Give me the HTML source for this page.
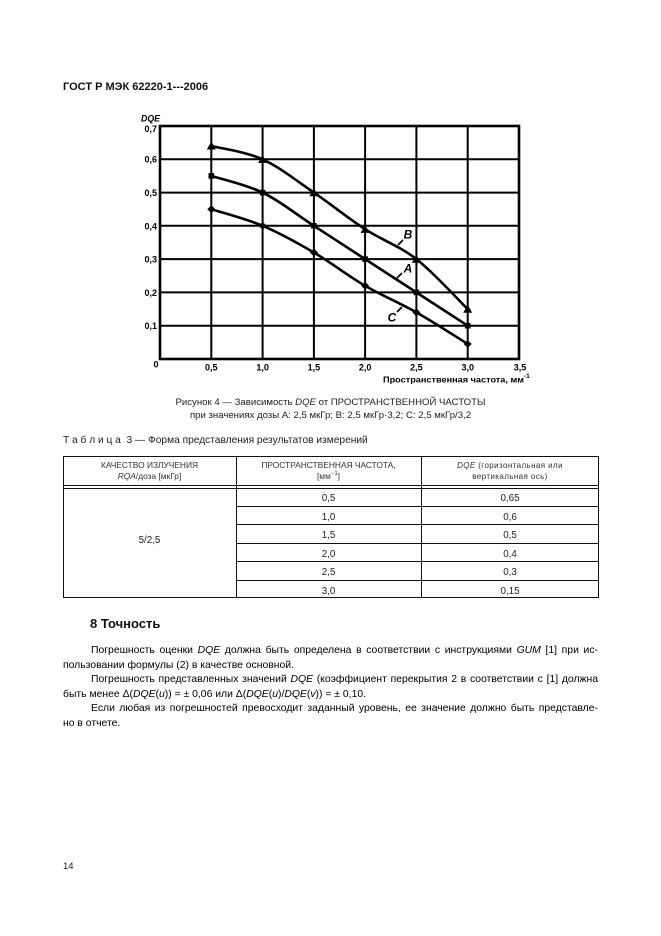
<!DOCTYPE html>
<html><head><meta charset="utf-8">
<style>
html,body{margin:0;padding:0;background:#fff;}
body{width:661px;height:936px;position:relative;overflow:hidden;font-family:"Liberation Sans",Arial,sans-serif;color:#111;}
.a{position:absolute;white-space:nowrap;}
.j{position:absolute;white-space:nowrap;text-align:justify;text-align-last:justify;}
</style></head>
<body>
<div class="a" style="left:63px;top:80px;font-size:11px;line-height:14px;font-weight:bold;">ГОСТ Р МЭК 62220-1---2006</div>

<svg class="a" style="left:0;top:0" width="661" height="400" viewBox="0 0 661 400" xmlns="http://www.w3.org/2000/svg">
<g stroke="#000" stroke-width="2" fill="none">
<line x1="211.3" y1="126" x2="211.3" y2="359"/>
<line x1="262.6" y1="126" x2="262.6" y2="359"/>
<line x1="313.9" y1="126" x2="313.9" y2="359"/>
<line x1="365.1" y1="126" x2="365.1" y2="359"/>
<line x1="416.4" y1="126" x2="416.4" y2="359"/>
<line x1="467.7" y1="126" x2="467.7" y2="359"/>
<line x1="160" y1="159.3" x2="519" y2="159.3"/>
<line x1="160" y1="192.6" x2="519" y2="192.6"/>
<line x1="160" y1="225.8" x2="519" y2="225.8"/>
<line x1="160" y1="259.1" x2="519" y2="259.1"/>
<line x1="160" y1="292.4" x2="519" y2="292.4"/>
<line x1="160" y1="325.7" x2="519" y2="325.7"/>
<rect x="160" y="126" width="359" height="233" stroke-width="2.6"/>
</g>
<g stroke="#000" stroke-width="2.6" fill="none" stroke-linejoin="round" stroke-linecap="round">
<path d="M211.3,146 C219.85,148.2 245.5,151.5 262.6,159.3 C279.7,167.1 296.8,180.95 313.9,192.6 C331,204.25 348,218.1 365.1,229.2 C382.2,240.3 399.3,245.8 416.4,259.1 C433.5,272.4 459.15,300.8 467.7,309.1"/>
<path d="M211.3,175.9 C219.85,178.7 245.5,184.3 262.6,192.6 C279.7,200.9 296.8,214.7 313.9,225.8 C331,236.9 348,248 365.1,259.1 C382.2,270.2 399.3,281.3 416.4,292.4 C433.5,303.5 459.15,320.15 467.7,325.7"/>
<path d="M211.3,209.2 C219.85,211.97 245.5,218.6 262.6,225.8 C279.7,233 296.8,242.5 313.9,252.5 C331,262.5 348,275.8 365.1,285.8 C382.2,295.8 399.3,302.7 416.4,312.4 C433.5,322.1 459.15,338.7 467.7,344"/>
</g>
<g fill="#000">
<polygon points="211.3,141.5 215.8,149.5 206.8,149.5"/>
<polygon points="262.6,155 267.1,163 258.1,163"/>
<polygon points="313.9,188.3 318.4,196.3 309.4,196.3"/>
<polygon points="365.1,224.9 369.6,232.9 360.6,232.9"/>
<polygon points="416.4,254.8 420.9,262.8 411.9,262.8"/>
<polygon points="467.7,304.8 472.2,312.8 463.2,312.8"/>
<rect x="208.5" y="173.1" width="5.6" height="5.6"/>
<rect x="259.8" y="189.8" width="5.6" height="5.6"/>
<rect x="311.1" y="223" width="5.6" height="5.6"/>
<rect x="362.3" y="256.3" width="5.6" height="5.6"/>
<rect x="413.6" y="289.6" width="5.6" height="5.6"/>
<rect x="464.9" y="322.9" width="5.6" height="5.6"/>
<polygon points="211.3,205.2 215.3,209.2 211.3,213.2 207.3,209.2"/>
<polygon points="262.6,221.8 266.6,225.8 262.6,229.8 258.6,225.8"/>
<polygon points="313.9,248.5 317.9,252.5 313.9,256.5 309.9,252.5"/>
<polygon points="365.1,281.8 369.1,285.8 365.1,289.8 361.1,285.8"/>
<polygon points="416.4,308.4 420.4,312.4 416.4,316.4 412.4,312.4"/>
<polygon points="467.7,340 471.7,344 467.7,348 463.7,344"/>
</g>
<g stroke="#000" stroke-width="1.6">
<line x1="398" y1="245" x2="403" y2="240"/>
<line x1="397" y1="278" x2="402" y2="273"/>
<line x1="397" y1="312" x2="402" y2="307"/>
</g>
<g font-family="Liberation Sans, Arial, sans-serif" font-weight="bold" font-style="italic" font-size="12" fill="#000">
<text x="408" y="238.5" text-anchor="middle">B</text>
<text x="408" y="272.5" text-anchor="middle">A</text>
<text x="392" y="321.5" text-anchor="middle">C</text>
</g>
<g font-family="Liberation Sans, Arial, sans-serif" font-weight="bold" font-size="9" fill="#000">
<text x="141" y="121.5" font-style="italic" textLength="19" lengthAdjust="spacingAndGlyphs">DQE</text>
<text x="157" y="132" text-anchor="end">0,7</text>
<text x="157" y="162.5" text-anchor="end">0,6</text>
<text x="157" y="196" text-anchor="end">0,5</text>
<text x="157" y="229.3" text-anchor="end">0,4</text>
<text x="157" y="262.5" text-anchor="end">0,3</text>
<text x="157" y="296" text-anchor="end">0,2</text>
<text x="157" y="329.2" text-anchor="end">0,1</text>
<text x="156" y="367.5" text-anchor="middle">0</text>
<text x="211.3" y="370.5" text-anchor="middle">0,5</text>
<text x="262.6" y="370.5" text-anchor="middle">1,0</text>
<text x="313.9" y="370.5" text-anchor="middle">1,5</text>
<text x="365.1" y="370.5" text-anchor="middle">2,0</text>
<text x="416.4" y="370.5" text-anchor="middle">2,5</text>
<text x="467.7" y="370.5" text-anchor="middle">3,0</text>
<text x="520" y="370.5" text-anchor="middle">3,5</text>
<text x="383" y="382.5" font-size="8.5" textLength="141" lengthAdjust="spacingAndGlyphs">Пространственная частота, мм</text>
<text x="524" y="378" font-size="6.5">-1</text>
</g>
</svg>

<div class="a" style="left:0;width:661px;text-align:center;top:396px;font-size:9.6px;line-height:13px;color:#222;">Рисунок 4 — Зависимость <i>DQE</i> от ПРОСТРАНСТВЕННОЙ ЧАСТОТЫ</div>
<div class="a" style="left:0;width:661px;text-align:center;top:409px;font-size:9.6px;line-height:13px;color:#222;">при значениях дозы А: 2,5 мкГр; В: 2,5 мкГр·3,2; С: 2,5 мкГр/3,2</div>

<div class="a" style="left:63px;top:434px;font-size:10.2px;line-height:13px;color:#222;">Т а б л и ц а&nbsp; 3 — Форма представления результатов измерений</div>

<!-- table -->
<div class="a" style="left:63px;top:456px;width:536px;height:142px;border:1px solid #111;box-sizing:border-box;"></div>
<div class="a" style="left:63px;top:485px;width:536px;height:0;border-top:1px solid #111;"></div>
<div class="a" style="left:63px;top:487.5px;width:536px;height:0;border-top:1px solid #111;"></div>
<div class="a" style="left:236px;top:456px;width:0;height:142px;border-left:1px solid #111;"></div>
<div class="a" style="left:421px;top:456px;width:0;height:142px;border-left:1px solid #111;"></div>
<div class="a" style="left:236px;top:505.5px;width:363px;height:0;border-top:1px solid #111;"></div>
<div class="a" style="left:236px;top:524px;width:363px;height:0;border-top:1px solid #111;"></div>
<div class="a" style="left:236px;top:542.5px;width:363px;height:0;border-top:1px solid #111;"></div>
<div class="a" style="left:236px;top:561px;width:363px;height:0;border-top:1px solid #111;"></div>
<div class="a" style="left:236px;top:579.5px;width:363px;height:0;border-top:1px solid #111;"></div>

<div class="a" style="left:63px;width:173px;text-align:center;top:460px;font-size:8.4px;line-height:11px;color:#333;">КАЧЕСТВО ИЗЛУЧЕНИЯ<br><i>RQA</i>/доза [мкГр]</div>
<div class="a" style="left:236px;width:185px;text-align:center;top:460px;font-size:8.4px;line-height:11px;color:#333;">ПРОСТРАНСТВЕННАЯ ЧАСТОТА,<br>[мм<sup style="font-size:6px;line-height:0;">−1</sup>]</div>
<div class="a" style="left:421px;width:178px;text-align:center;top:460px;font-size:8px;line-height:11px;color:#333;letter-spacing:0.4px;"><i>DQE</i> (горизонтальная или<br>вертикальная ось)</div>

<div class="a" style="left:63px;width:173px;text-align:center;top:535px;font-size:9.8px;line-height:12px;color:#222;">5/2,5</div>
<div class="a" style="left:236px;width:185px;text-align:center;top:490px;font-size:9.8px;line-height:18.5px;color:#222;">0,5<br>1,0<br>1,5<br>2,0<br>2,5<br>3,0</div>
<div class="a" style="left:421px;width:178px;text-align:center;top:490px;font-size:9.8px;line-height:18.5px;color:#222;">0,65<br>0,6<br>0,5<br>0,4<br>0,3<br>0,15</div>

<div class="a" style="left:90px;top:616px;font-size:13px;line-height:15px;font-weight:bold;">8 Точность</div>

<div class="j" style="left:91px;width:507px;top:644px;font-size:10.4px;line-height:14px;color:#000;">Погрешность оценки <i>DQE</i> должна быть определена в соответствии с инструкциями <i>GUM</i> [1] при ис-</div>
<div class="a" style="left:63px;top:659px;font-size:10.4px;line-height:14px;color:#000;">пользовании формулы (2) в качестве основной.</div>
<div class="j" style="left:91px;width:507px;top:673px;font-size:10.4px;line-height:14px;color:#000;">Погрешность представленных значений <i>DQE</i> (коэффициент перекрытия 2 в соответствии с [1] должна</div>
<div class="a" style="left:63px;top:688px;font-size:10.4px;line-height:14px;color:#000;">быть менее Δ(<i>DQE</i>(<i>u</i>)) = ± 0,06 или Δ(<i>DQE</i>(<i>u</i>)/<i>DQE</i>(<i>v</i>)) = ± 0,10.</div>
<div class="j" style="left:91px;width:507px;top:702px;font-size:10.4px;line-height:14px;color:#000;">Если любая из погрешностей превосходит заданный уровень, ее значение должно быть представле-</div>
<div class="a" style="left:63px;top:717px;font-size:10.4px;line-height:14px;color:#000;">но в отчете.</div>

<div class="a" style="left:63px;top:861px;font-size:9.5px;line-height:12px;color:#222;">14</div>
</body></html>
